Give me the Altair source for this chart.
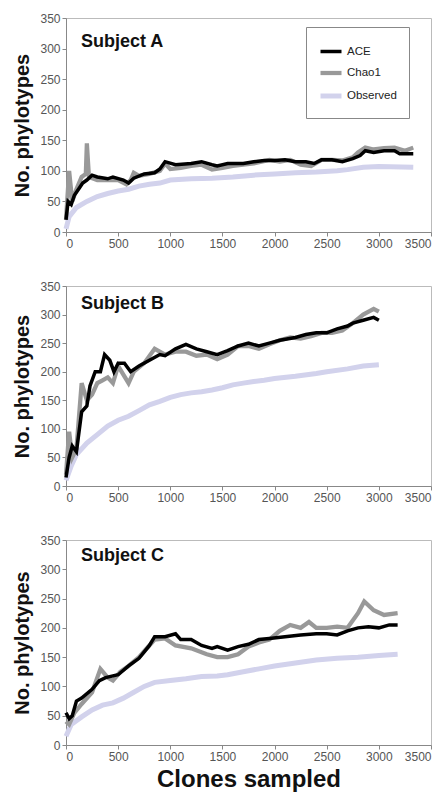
import altair as alt
import pandas as pd

SERIES = ["ACE", "Chao1", "Observed"]
COLORS = ["#000000", "#999999", "#d2d2ec"]
WIDTHS = [3.5, 5, 3.5]
SUBJECTS = ["Subject A", "Subject B", "Subject C"]
X_TICKS = [0, 500, 1000, 1500, 2000, 2500, 3000, 3500]
Y_TICKS = [0, 50, 100, 150, 200, 250, 300, 350]

# ---- Subject A ----
A_ACE_X = [0, 20, 50, 80, 120, 160, 200, 250, 300, 400, 450, 550, 600, 650, 750, 850, 900, 950, 1050, 1200, 1300, 1400, 1450, 1550, 1700, 1800, 1900, 2000, 2100, 2200, 2300, 2380, 2450, 2550, 2650, 2750, 2820, 2870, 2950, 3050, 3150, 3200, 3330]
A_ACE_Y = [20, 50, 45, 60, 70, 80, 85, 93, 90, 87, 90, 85, 80, 88, 95, 97, 103, 115, 110, 112, 115, 110, 108, 112, 112, 115, 117, 117, 118, 115, 115, 112, 118, 118, 115, 120, 125, 133, 130, 133, 133, 128, 128]
A_CHAO_X = [0, 30, 60, 100, 150, 190, 200, 220, 300, 400, 500, 580, 620, 650, 700, 800, 900, 950, 1000, 1100, 1200, 1300, 1400, 1500, 1600, 1700, 1800, 1950, 2050, 2150, 2250, 2350, 2450, 2550, 2650, 2750, 2800, 2870, 2950, 3050, 3150, 3250, 3330]
A_CHAO_Y = [20, 100, 50, 70, 90, 95, 145, 90, 85, 85, 85, 78, 85, 97, 92, 95, 100, 112, 103, 105, 108, 110, 102, 105, 108, 110, 112, 118, 115, 118, 110, 108, 118, 118, 117, 122, 130, 138, 135, 137, 138, 133, 138]
A_OBS_X = [0, 30, 100, 200, 300, 400, 500, 600, 700, 800, 900, 1000, 1200, 1400, 1600, 1800, 2000, 2200, 2400, 2600, 2700, 2850, 3000, 3330]
A_OBS_Y = [5, 25, 40, 50, 58, 63, 67, 70, 75, 78, 80, 85, 87, 88, 90, 93, 95, 97, 98, 100, 102, 106, 107, 106]

# ---- Subject B ----
B_ACE_X = [0, 30, 60, 100, 150, 200, 230, 280, 330, 370, 420, 460, 500, 560, 620, 700, 800, 900, 950, 1050, 1150, 1250, 1350, 1450, 1550, 1650, 1750, 1850, 1950, 2050, 2200, 2300, 2400, 2500, 2600, 2700, 2750, 2850, 2950, 3000]
B_ACE_Y = [15, 50, 70, 60, 130, 140, 175, 200, 200, 230, 220, 200, 215, 215, 200, 210, 220, 230, 228, 240, 248, 240, 235, 230, 237, 245, 250, 245, 250, 255, 260, 265, 268, 268, 275, 280, 285, 290, 295, 290]
B_CHAO_X = [0, 30, 60, 100, 150, 200, 250, 300, 350, 400, 450, 500, 550, 600, 650, 750, 850, 950, 1050, 1150, 1250, 1350, 1450, 1550, 1650, 1750, 1850, 1950, 2050, 2150, 2250, 2350, 2450, 2550, 2650, 2750, 2850, 2950, 3000]
B_CHAO_Y = [20, 95, 50, 65, 180, 150, 160, 180, 185, 190, 180, 210, 195, 180, 200, 215, 240, 230, 235, 235, 228, 230, 222, 230, 245, 245, 240, 248, 255, 260, 258, 262, 268, 268, 272, 285, 300, 310, 305]
B_OBS_X = [0, 50, 100, 200, 300, 400, 500, 600, 700, 800, 900, 1000, 1100, 1200, 1300, 1400, 1500, 1600, 1700, 1800, 1900, 2000, 2200, 2400, 2500, 2700, 2850, 3000]
B_OBS_Y = [10, 35, 55, 75, 90, 105, 115, 122, 132, 142, 148, 155, 160, 163, 165, 168, 172, 177, 180, 183, 185, 188, 192, 197, 200, 205, 210, 212]

# ---- Subject C ----
C_ACE_X = [0, 30, 60, 100, 150, 250, 320, 380, 450, 500, 600, 700, 800, 850, 950, 1050, 1100, 1200, 1300, 1400, 1450, 1550, 1650, 1750, 1850, 1950, 2100, 2250, 2400, 2500, 2600, 2700, 2800, 2900, 3000, 3100, 3180]
C_ACE_Y = [55, 45, 50, 75, 80, 95, 110, 115, 118, 120, 135, 148, 170, 185, 185, 190, 180, 180, 170, 165, 168, 162, 168, 172, 180, 182, 185, 188, 190, 190, 188, 195, 200, 202, 200, 205, 205]
C_CHAO_X = [0, 30, 80, 150, 250, 330, 400, 450, 520, 600, 700, 750, 850, 950, 1050, 1200, 1350, 1450, 1550, 1650, 1750, 1850, 1950, 2050, 2150, 2250, 2330, 2400, 2500, 2600, 2700, 2800, 2860, 2950, 3050, 3180]
C_CHAO_Y = [40, 35, 55, 70, 90, 130, 115, 110, 125, 135, 150, 160, 180, 182, 170, 165, 155, 150, 150, 155, 168, 175, 180, 195, 205, 200, 210, 200, 200, 202, 200, 225, 245, 230, 222, 225]
C_OBS_X = [0, 50, 150, 250, 350, 450, 550, 650, 750, 850, 1000, 1150, 1300, 1450, 1550, 1700, 1850, 2000, 2200, 2400, 2600, 2800, 3000, 3180]
C_OBS_Y = [15, 35, 48, 60, 68, 72, 80, 90, 100, 107, 110, 113, 117, 118, 120, 125, 130, 135, 140, 145, 148, 150, 153, 155]

PANELS = [
    [(A_ACE_X, A_ACE_Y), (A_CHAO_X, A_CHAO_Y), (A_OBS_X, A_OBS_Y)],
    [(B_ACE_X, B_ACE_Y), (B_CHAO_X, B_CHAO_Y), (B_OBS_X, B_OBS_Y)],
    [(C_ACE_X, C_ACE_Y), (C_CHAO_X, C_CHAO_Y), (C_OBS_X, C_OBS_Y)],
]

FONT = "Liberation Sans"


def make_df(series_list):
    rows = []
    for name, (xs, ys) in zip(SERIES, series_list):
        for x, y in zip(xs, ys):
            rows.append({"clones": x, "phylotypes": y, "series": name})
    return pd.DataFrame(rows)


def panel(i, height, label_y, show_legend, show_xtitle):
    df = make_df(PANELS[i])
    if show_legend:
        leg = alt.Legend(
            orient="none", legendX=240, legendY=9, title=None,
            symbolType="stroke", symbolSize=441, labelFontSize=11.5,
            labelFont=FONT, labelColor="#222", padding=12, rowPadding=1,
            strokeColor="#888", fillColor="white", labelOffset=3,
        )
    else:
        leg = None
    xaxis = alt.Axis(
        values=X_TICKS, format="d", title="Clones sampled" if show_xtitle else None,
        titleFontSize=24, titleFontWeight="bold", titleFont=FONT,
        titleColor="#111", titlePadding=5,
    )
    yaxis = alt.Axis(
        values=Y_TICKS, format="d", title="No. phylotypes", titleFontSize=20,
        titleFontWeight="bold", titleFont=FONT, titleColor="#111",
        titlePadding=7,
    )
    enc = dict(
        x=alt.X("clones:Q", scale=alt.Scale(domain=[0, 3500], nice=False), axis=xaxis),
        y=alt.Y("phylotypes:Q", scale=alt.Scale(domain=[0, 350], nice=False), axis=yaxis),
        color=alt.Color("series:N", scale=alt.Scale(domain=SERIES, range=COLORS), legend=leg),
        strokeWidth=alt.StrokeWidth("series:N", scale=alt.Scale(domain=SERIES, range=WIDTHS), legend=leg),
    )
    layers = []
    for s in ["Observed", "Chao1", "ACE"]:
        layers.append(
            alt.Chart(df).transform_filter(alt.datum.series == s)
            .mark_line(strokeJoin="miter").encode(**enc)
        )
    lab = alt.Chart(pd.DataFrame({"label": [SUBJECTS[i]]})).mark_text(
        align="left", baseline="alphabetic", fontSize=18, fontWeight="bold",
        font=FONT, color="#111",
    ).encode(text="label:N", x=alt.value(15), y=alt.value(label_y))
    return alt.layer(*layers, lab).properties(width=365, height=height)


chart = alt.vconcat(
    panel(0, 214, 29, True, False),
    panel(1, 200, 23, False, False),
    panel(2, 205, 21, False, True),
    spacing=29,
).resolve_scale(color="independent", strokeWidth="independent").resolve_legend(
    color="independent", strokeWidth="independent"
).configure_axis(
    grid=False, domainColor="#888", tickColor="#888", tickSize=4,
    labelColor="#555", labelFontSize=12, labelFont=FONT, labelPadding=2,
).configure_view(stroke="#bbb").properties(
    padding={"left": 4, "top": 3, "right": 0, "bottom": 0}
)

chart.save("out.html", embed_options={"renderer": "svg", "actions": False})
